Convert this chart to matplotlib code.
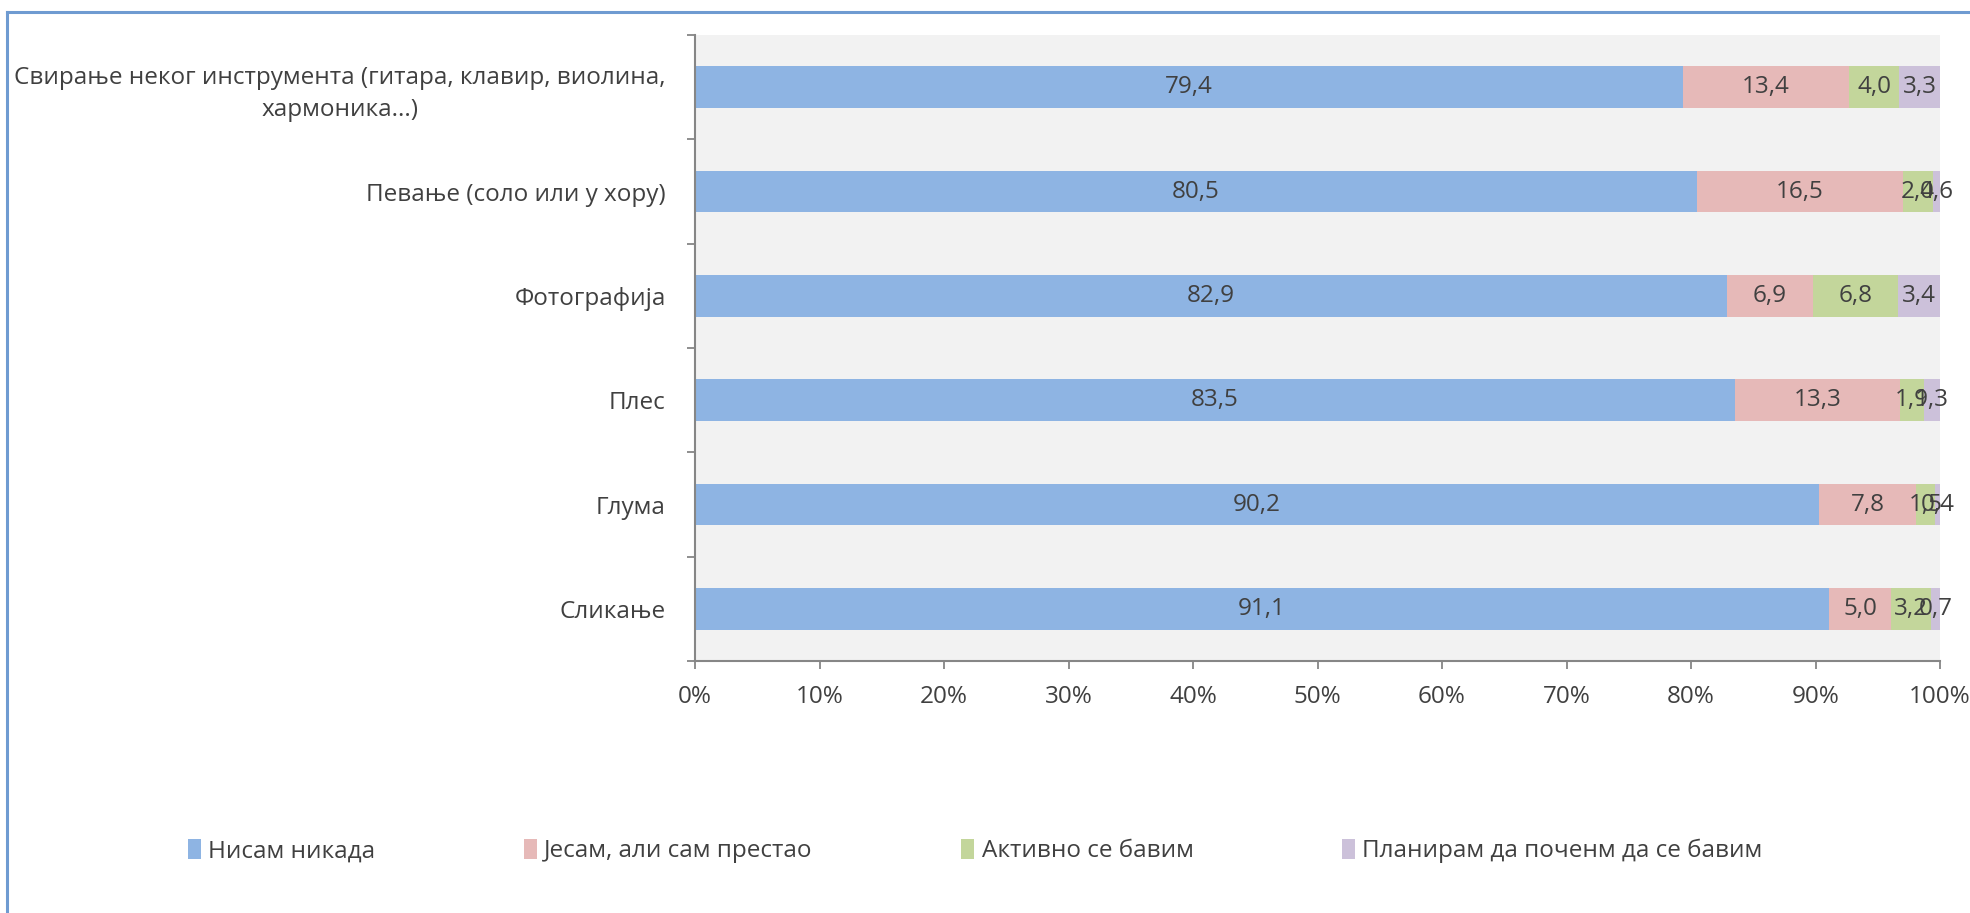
#!/usr/bin/env python3
# -*- coding: utf-8 -*-

"""Stacked 100% bar chart of artistic activities."""

# dependencies
import numpy as np
from matplotlib import pyplot as plt
from matplotlib.patches import Patch
from matplotlib.lines import Line2D

# data
categories = [
    'Свирање неког инструмента (гитара, клавир, виолина,\nхармоника...)',
    'Певање (соло или у хору)',
    'Фотографија',
    'Плес',
    'Глума',
    'Сликање',
]
series_names = ['Нисам никада', 'Јесам, али сам престао', 'Активно се бавим',
                'Планирам да поченм да се бавим']
never = [79.4, 80.5, 82.9, 83.5, 90.2, 91.1]
stopped = [13.4, 16.5, 6.9, 13.3, 7.8, 5.0]
active = [4.0, 2.4, 6.8, 1.9, 1.5, 3.2]
planning = [3.3, 0.6, 3.4, 1.3, 0.4, 0.7]
x_ticks = [0, 10, 20, 30, 40, 50, 60, 70, 80, 90, 100]

colors = ['#8EB4E3', '#E6B9B8', '#C3D69B', '#CCC1DA']
text_color = '#404040'
axis_color = '#868686'
fs = 17.5

plt.rcParams['font.family'] = ['Open Sans', 'DejaVu Sans']
plt.rcParams['font.size'] = fs

fig = plt.figure(figsize=(19.7, 9.13), dpi=100)
ax = fig.add_axes([695 / 1970, 1 - 661 / 913, 1245 / 1970, 626 / 913])
ax.set_facecolor('#F2F2F2')

# normalise to 100 %
data = np.array([never, stopped, active, planning], dtype=float)
data = data / data.sum(axis=0) * 100

y = np.arange(len(categories))
left = np.zeros(len(categories))
for i in range(len(series_names)):
    ax.barh(y, data[i], left=left, height=0.4, color=colors[i],
            label=series_names[i], zorder=2)
    raw = [never, stopped, active, planning][i]
    for j in range(len(categories)):
        ax.text(left[j] + data[i][j] / 2, y[j], f'{raw[j]:.1f}'.replace('.', ','),
                ha='center', va='center', color=text_color, fontsize=fs, zorder=3)
    left += data[i]

# axes
ax.set_xlim(0, 100)
ax.set_ylim(len(categories) - 0.5, -0.5)
ax.set_xticks(x_ticks)
ax.set_xticklabels([f'{t}%' for t in x_ticks])
ax.set_yticks(y)
ax.set_yticklabels(categories, ha='right', multialignment='center', linespacing=1.45)
ax.set_yticks(np.arange(-0.5, len(categories), 1), minor=True)
ax.tick_params(axis='y', which='major', length=0, pad=21, colors=text_color)
ax.tick_params(axis='y', which='minor', length=6, width=1.3, color=axis_color, direction='out')
ax.tick_params(axis='x', length=6, width=1.3, color=axis_color, labelcolor=text_color, pad=11)
for s in ['top', 'right']:
    ax.spines[s].set_visible(False)
for s in ['left', 'bottom']:
    ax.spines[s].set_color(axis_color)
    ax.spines[s].set_linewidth(1.5)

# legend
handles = [Patch(facecolor=c, edgecolor='none') for c in colors]
leg = fig.legend(handles, series_names, loc='center', bbox_to_anchor=(0.495, 1 - 851 / 913),
                 ncol=4, frameon=False, fontsize=fs, handlelength=0.55, handleheight=0.9,
                 handletextpad=0.3, columnspacing=6.1)
for t in leg.get_texts():
    t.set_color(text_color)

# chart border (top and left)
fig.add_artist(Line2D([7 / 1970, 1], [1 - 12 / 913, 1 - 12 / 913], color='#6F9BD1', lw=2.2))
fig.add_artist(Line2D([7 / 1970, 7 / 1970], [0, 1 - 12 / 913], color='#6F9BD1', lw=2.2))

fig.savefig('out.png', dpi=100)
